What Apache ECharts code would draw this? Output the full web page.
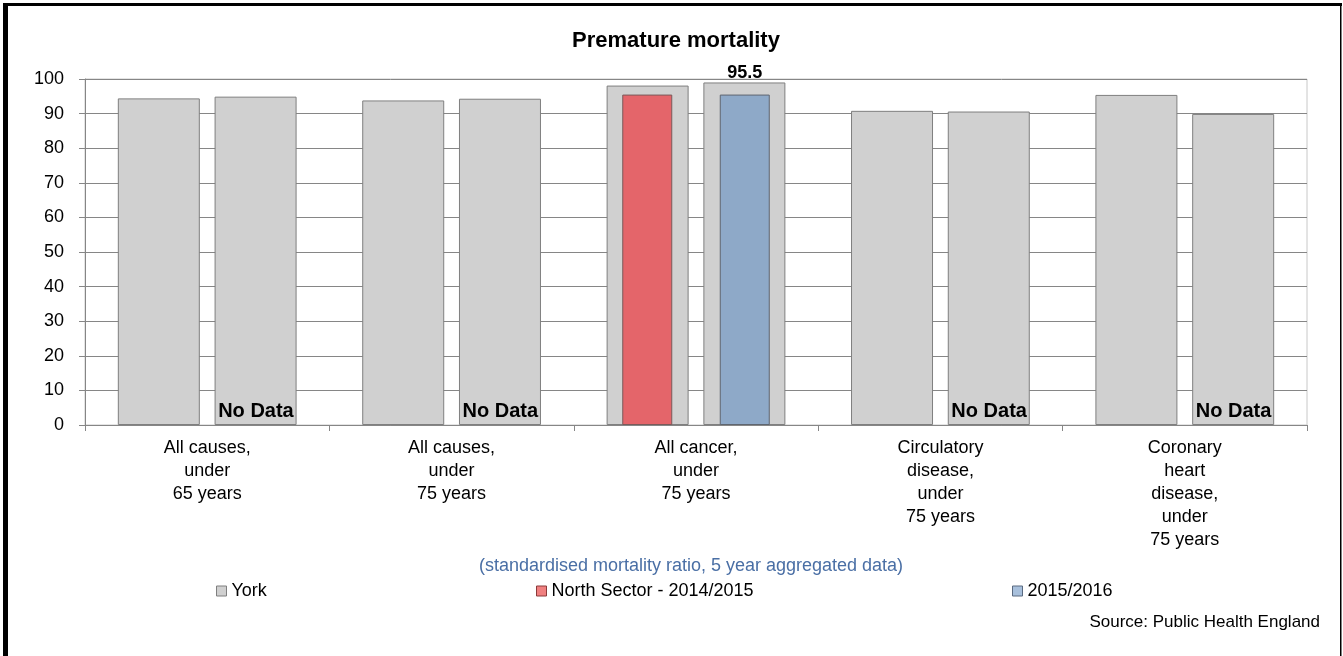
<!DOCTYPE html>
<html>
<head>
<meta charset="utf-8">
<script src="https://cdn.jsdelivr.net/npm/echarts@6/dist/echarts.min.js"></script>
<style>
  html, body { margin: 0; padding: 0; background: #fff; }
  #chart { width: 1343px; height: 656px; }
</style>
</head>
<body>
<div id="chart"></div>
<script>
// categories along the x axis
const categories = [
  'All causes,\nunder\n65 years',
  'All causes,\nunder\n75 years',
  'All cancer,\nunder\n75 years',
  'Circulatory\ndisease,\nunder\n75 years',
  'Coronary\nheart\ndisease,\nunder\n75 years'
];
// York, two periods
const york1415 = [94.4, 93.8, 98.1, 90.8, 95.4];
const york1516 = [94.9, 94.3, 99.0, 90.6, 89.9];
// North Sector, two periods (null = no data)
const north1415 = [null, null, 95.5, null, null];
const north1516 = [null, null, 95.5, null, null];
const yTicks = { min: 0, max: 100, interval: 10 };

const FONT = '"Liberation Sans", Arial, sans-serif';

// "No Data" marker where north1516 is missing
const noData = north1516.map(v => v == null ? 0 : null);

const chart = echarts.init(document.getElementById('chart'));

const legendBase = {
  orient: 'horizontal',
  top: 582,
  padding: 0,
  itemWidth: 10,
  itemHeight: 10,
  itemGap: 0,
  icon: 'rect',
  selectedMode: false,
  textStyle: { fontFamily: FONT, fontSize: 18, color: '#000' }
};

chart.setOption({
  backgroundColor: '#fff',
  animation: false,
  textStyle: { fontFamily: FONT },
  grid: {
    left: 85, right: 36, top: 79, bottom: 231,
    show: true, borderColor: '#c8c8c8', borderWidth: 1
  },
  legend: [
    Object.assign({}, legendBase, {
      left: 216,
      data: [{ name: 'York', itemStyle: { color: '#d0d0d0', borderColor: '#7f7f7f', borderWidth: 1 } }]
    }),
    Object.assign({}, legendBase, {
      left: 536,
      data: [{ name: 'North Sector - 2014/2015', itemStyle: { color: '#f08080', borderColor: '#8b3a3a', borderWidth: 1 } }]
    }),
    Object.assign({}, legendBase, {
      left: 1012,
      data: [{ name: '2015/2016', itemStyle: { color: '#a8c0dc', borderColor: '#5a6a80', borderWidth: 1 } }]
    })
  ],
  xAxis: [
    {
      type: 'category',
      data: categories,
      axisLine: { lineStyle: { color: '#868686', width: 1 } },
      axisTick: { show: true, length: 6, lineStyle: { color: '#868686' } },
      axisLabel: {
        color: '#000', fontSize: 18, lineHeight: 23, margin: 12,
        interval: 0, fontFamily: FONT
      }
    },
    {
      type: 'category',
      data: categories,
      show: false
    }
  ],
  yAxis: {
    type: 'value',
    min: yTicks.min,
    max: yTicks.max,
    interval: yTicks.interval,
    axisLine: { show: true, lineStyle: { color: '#868686' } },
    axisTick: { show: true, length: 6, lineStyle: { color: '#868686' } },
    axisLabel: { color: '#000', fontSize: 18, margin: 21, fontFamily: FONT },
    splitLine: { lineStyle: { color: '#868686', width: 1 } }
  },
  series: [
    {
      name: 'York', type: 'bar', xAxisIndex: 0,
      data: york1415, barWidth: 82, barGap: '18%',
      itemStyle: { color: '#d0d0d0', borderColor: '#7f7f7f', borderWidth: 1 }
    },
    {
      name: 'York', type: 'bar', xAxisIndex: 0,
      data: york1516, barWidth: 82, barGap: '18%',
      itemStyle: { color: '#d0d0d0', borderColor: '#7f7f7f', borderWidth: 1 }
    },
    {
      name: 'North Sector - 2014/2015', type: 'bar', xAxisIndex: 1,
      data: north1415, barWidth: 50, barGap: '95%',
      itemStyle: { color: '#e4656a', borderColor: '#7a5a5a', borderWidth: 1 }
    },
    {
      name: '2015/2016', type: 'bar', xAxisIndex: 1, stack: 'n2',
      data: north1516, barWidth: 50, barGap: '95%',
      itemStyle: { color: '#8ea9c8', borderColor: '#5f6670', borderWidth: 1 },
      label: {
        show: true, position: 'top', distance: 13,
        fontSize: 18, fontWeight: 'bold', color: '#000', fontFamily: FONT
      }
    },
    {
      name: 'noData', type: 'bar', xAxisIndex: 1, stack: 'n2',
      data: noData, barWidth: 50, barGap: '95%',
      itemStyle: { color: 'rgba(0,0,0,0)', borderWidth: 0 },
      label: {
        show: true, position: 'insideBottom', distance: 4,
        formatter: 'No Data',
        fontSize: 20, fontWeight: 'bold', color: '#000', fontFamily: FONT
      }
    }
  ],
  graphic: [
    // outer frame
    { type: 'rect', shape: { x: 3, y: 3, width: 5, height: 653 }, style: { fill: '#000' } },
    { type: 'rect', shape: { x: 3, y: 3, width: 1339, height: 3 }, style: { fill: '#000' } },
    { type: 'rect', shape: { x: 1340, y: 3, width: 1.5, height: 653 }, style: { fill: '#000' } },
    {
      type: 'text', x: 676, y: 41,
      style: {
        text: 'Premature mortality', font: 'bold 22px ' + FONT,
        fill: '#000', textAlign: 'center', textVerticalAlign: 'middle'
      }
    },
    {
      type: 'text', x: 691, y: 566,
      style: {
        text: '(standardised mortality ratio, 5 year aggregated data)', font: '18px ' + FONT,
        fill: '#4a6fa5', textAlign: 'center', textVerticalAlign: 'middle'
      }
    },
    {
      type: 'text', x: 1320, y: 622,
      style: {
        text: 'Source: Public Health England', font: '17px ' + FONT,
        fill: '#000', textAlign: 'right', textVerticalAlign: 'middle'
      }
    }
  ]
});
</script>
</body>
</html>
